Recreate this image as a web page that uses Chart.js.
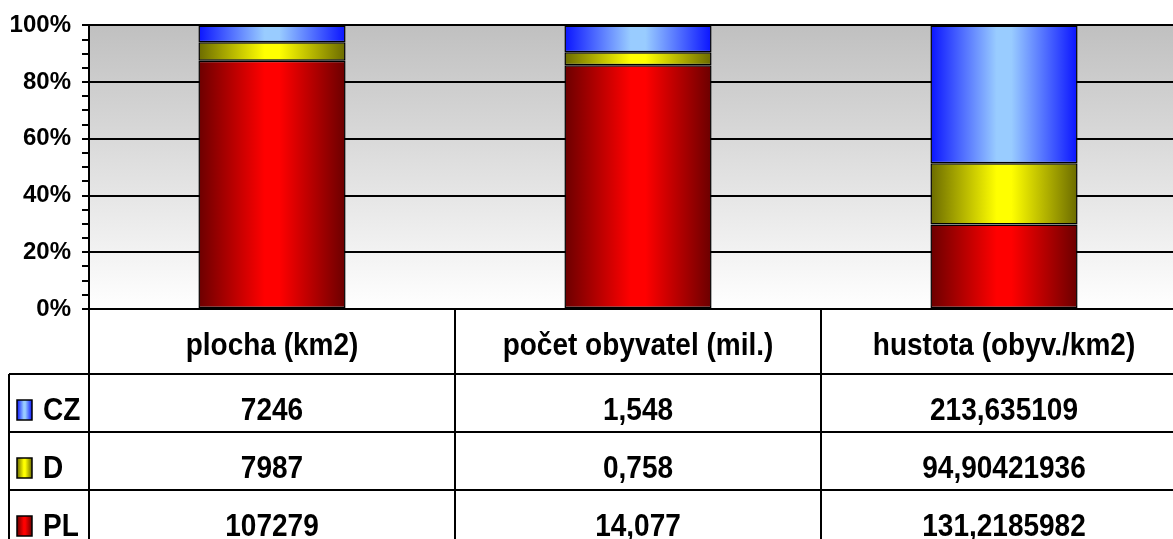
<!DOCTYPE html>
<html>
<head>
<meta charset="utf-8">
<script src="https://cdn.jsdelivr.net/npm/chart.js@4"></script>
<style>
  html, body { margin: 0; padding: 0; background: #fff; overflow: hidden; }
  #wrap { width: 1190px; height: 550px; }
</style>
</head>
<body>
<div id="wrap"><canvas id="chart" width="1190" height="550"></canvas></div>
<script>
const categories = ["plocha (km2)", "počet obyvatel (mil.)", "hustota (obyv./km2)"];
const seriesNames = ["CZ", "D", "PL"];
const czValues = [7246, 1.548, 213.635109];
const dValues = [7987, 0.758, 94.90421936];
const plValues = [107279, 14.077, 131.2185982];
const yTicks = [0, 20, 40, 60, 80, 100];

const BAR_PCT = 0.402;
const FONT = "'Liberation Sans', Arial, sans-serif";

const gradStops = {
  CZ: ["#0a14ff", "#99ccff", "#0a14ff"],
  D:  ["#6b6b00", "#ffff00", "#6b6b00"],
  PL: ["#6b0000", "#ff0000", "#6b0000"]
};

const rawBySeries = { CZ: czValues, D: dValues, PL: plValues };

function share(name) {
  return categories.map((c, i) => {
    const total = czValues[i] + dValues[i] + plValues[i];
    return rawBySeries[name][i] / total * 100;
  });
}

function makeGradient(ctx2d, left, right, name) {
  const s = gradStops[name];
  const g = ctx2d.createLinearGradient(left, 0, right, 0);
  g.addColorStop(0, s[0]);
  g.addColorStop(0.45, s[1]);
  g.addColorStop(0.55, s[1]);
  g.addColorStop(1, s[2]);
  return g;
}

function barFill(name) {
  return (ctx) => {
    const chart = ctx.chart;
    const x = chart.scales && chart.scales.x;
    if (!x || ctx.dataIndex === undefined) return gradStops[name][1];
    const c = x.getPixelForValue(ctx.dataIndex);
    const w = (x.getPixelForValue(1) - x.getPixelForValue(0)) * BAR_PCT;
    if (!isFinite(c) || !isFinite(w) || w <= 0) return gradStops[name][1];
    return makeGradient(chart.ctx, c - w / 2, c + w / 2, name);
  };
}

function tableText(ctx, str, x, baseline, align) {
  ctx.save();
  ctx.translate(x, baseline);
  ctx.scale(1, 1.15);
  ctx.textAlign = align;
  ctx.textBaseline = "alphabetic";
  ctx.fillText(str, 0, 0);
  ctx.restore();
}

const plotBackground = {
  id: "plotBackground",
  beforeDraw(chart) {
    const { ctx, chartArea: a } = chart;
    const g = ctx.createLinearGradient(0, a.top, 0, a.bottom);
    g.addColorStop(0, "#c0c0c0");
    g.addColorStop(1, "#ffffff");
    ctx.save();
    ctx.fillStyle = g;
    ctx.fillRect(a.left, a.top, a.right - a.left, a.bottom - a.top);
    ctx.restore();
  }
};

// data table under the plot, columns follow the x scale
const dataTable = {
  id: "dataTable",
  afterDraw(chart) {
    const { ctx, chartArea: a } = chart;
    const x = chart.scales.x;
    const half = (x.getPixelForValue(1) - x.getPixelForValue(0)) / 2;
    const headerBottom = a.bottom + 65;
    const rowH = 58;
    const bottom = headerBottom + rowH * 3;
    const tableLeft = 9;

    ctx.save();
    ctx.strokeStyle = "#000";
    ctx.lineWidth = 2;
    ctx.beginPath();
    // verticals
    ctx.moveTo(tableLeft, headerBottom); ctx.lineTo(tableLeft, bottom);
    ctx.moveTo(a.left, a.bottom); ctx.lineTo(a.left, bottom);
    categories.forEach((c, i) => {
      const r = x.getPixelForValue(i) + half;
      ctx.moveTo(r, a.bottom); ctx.lineTo(r, bottom);
    });
    // horizontals
    for (let k = 0; k <= 3; k++) {
      const y = headerBottom + rowH * k;
      ctx.moveTo(tableLeft, y); ctx.lineTo(chart.width, y);
    }
    ctx.stroke();

    ctx.fillStyle = "#000";
    ctx.font = "bold 28px " + FONT;
    categories.forEach((c, i) => {
      tableText(ctx, c, x.getPixelForValue(i), a.bottom + 46, "center");
    });

    seriesNames.forEach((name, r) => {
      const base = headerBottom + 46 + rowH * r;
      // legend key
      const kx = 17, ky = base - 20, kw = 15, kh = 20;
      ctx.fillStyle = makeGradient(ctx, kx, kx + kw, name);
      ctx.fillRect(kx, ky, kw, kh);
      ctx.lineWidth = 1.5;
      ctx.strokeRect(kx, ky, kw, kh);
      ctx.fillStyle = "#000";
      tableText(ctx, name, 43, base, "left");
      rawBySeries[name].forEach((v, i) => {
        tableText(ctx, String(v).replace(".", ","), x.getPixelForValue(i), base, "center");
      });
    });
    ctx.restore();
  }
};

const datasets = ["PL", "D", "CZ"].map(name => ({
  label: name,
  data: share(name),
  backgroundColor: barFill(name),
  borderColor: "#000",
  borderWidth: 1.5,
  borderSkipped: false,
  barPercentage: BAR_PCT,
  categoryPercentage: 1
}));

new Chart(document.getElementById("chart").getContext("2d"), {
  type: "bar",
  data: { labels: categories, datasets: datasets },
  plugins: [plotBackground, dataTable],
  options: {
    responsive: false,
    animation: false,
    layout: { padding: { top: 24, right: 3, bottom: 241, left: 0 } },
    plugins: { legend: { display: false }, tooltip: { enabled: false } },
    scales: {
      x: {
        stacked: true,
        grid: { display: false },
        border: { display: false },
        ticks: { display: false },
        afterFit: s => { s.height = 0; }
      },
      y: {
        stacked: true,
        min: 0,
        max: 100,
        afterFit: s => { s.width = 89; },
        afterBuildTicks: s => {
          const t = [];
          for (let v = 0; v <= 100; v += 5) t.push({ value: v });
          s.ticks = t;
        },
        border: { display: true, color: "#000", width: 2 },
        grid: {
          color: c => yTicks.includes(c.tick.value) ? "#000" : "rgba(0,0,0,0)",
          tickColor: "#000",
          lineWidth: 2,
          tickWidth: 2,
          tickLength: 7
        },
        ticks: {
          autoSkip: false,
          padding: 11,
          color: "#000",
          font: { family: FONT, size: 24, weight: "bold" },
          callback: v => yTicks.includes(v) ? v + "%" : ""
        }
      }
    }
  }
});
</script>
</body>
</html>
